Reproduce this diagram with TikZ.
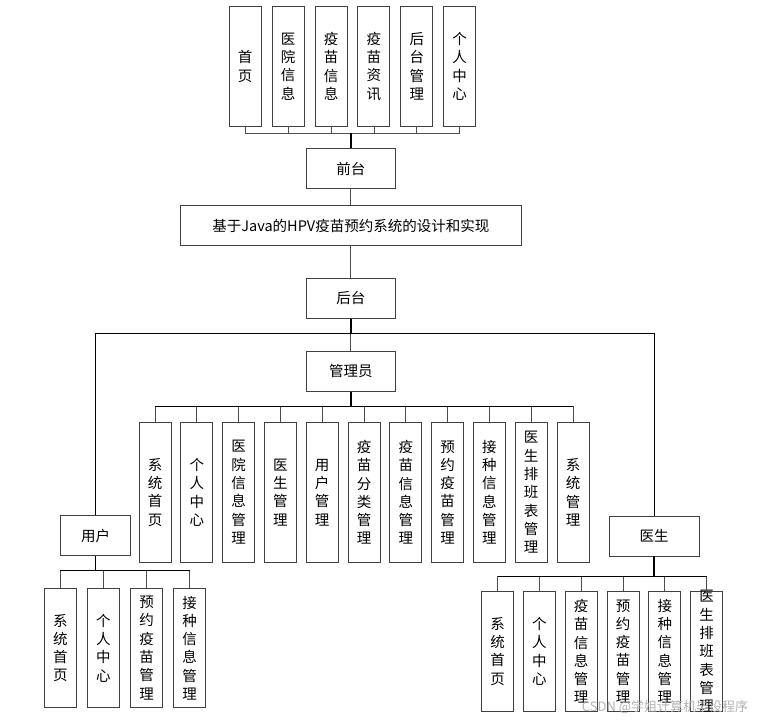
\documentclass[tikz,border=0pt]{standalone}
\usepackage{fontspec}
\setmainfont{Noto Sans CJK SC}
\begin{document}
\begin{tikzpicture}[x=1pt,y=-1pt,
  box/.style={draw=black!75,line width=0.9pt,fill=white,inner sep=0pt,font=\fontsize{14.5pt}{18.3pt}\selectfont},
  vbox/.style={box,minimum width=32pt},
  vtxt/.style={align=center,inner sep=0pt,font=\fontsize{14.5pt}{18.3pt}\selectfont},
  hbox/.style={box,minimum width=89.7pt,minimum height=39.6pt},
  bus/.style={line width=0.8pt,black},
  drop/.style={line width=0.8pt,black!70},
  stem/.style={line width=1.6pt,black}]
\useasboundingbox (0,0) rectangle (765,721);

% top level
\node[hbox] (qt) at (350.85,168.5) {前台};
\node[box,minimum width=341.7pt,minimum height=40pt] (title) at (350.85,225.7) {基于Java的HPV疫苗预约系统的设计和实现};
\node[hbox] (ht) at (350.85,298.3) {后台};
\node[hbox] (gly) at (350.85,371.3) {管理员};
\node[box,minimum width=69.6pt,minimum height=39.6pt] (yh) at (95.5,535.5) {用户};
\node[hbox] (ys) at (654.15,536.15) {医生};

% front boxes
\coordinate (tb) at (350.85,133.3);
\foreach \i/\t in {0/{首\\页},1/{医\\院\\信\\息},2/{疫\\苗\\信\\息},3/{疫\\苗\\资\\讯},4/{后\\台\\管\\理},5/{个\\人\\中\\心}}{
  \node[vbox,minimum height=119.3pt,label={[vtxt]center:\t}] (t\i) at ({245.2+42.9*\i},66.35) {};
  \draw[drop] (t\i.south) |- (tb);
}
\draw[stem] (qt.north) -- (tb);
\draw[drop] (qt.south) -- (title.north);
\draw[drop] (title.south) -- (ht.north);

% back
\coordinate (hb) at (350.85,333.3);
\draw[stem] (ht.south) -- (hb);
\draw[drop] (hb) -- (gly.north);
\draw[bus] (yh.north) |- (hb) -| (ys.north);

% admin children
\coordinate (ab) at (350.85,406.7);
\foreach \i/\t in {0/{系\\统\\首\\页},1/{个\\人\\中\\心},2/{医\\院\\信\\息\\管\\理},3/{医\\生\\管\\理},4/{用\\户\\管\\理},5/{疫\\苗\\分\\类\\管\\理},6/{疫\\苗\\信\\息\\管\\理},7/{预\\约\\疫\\苗\\管\\理},8/{接\\种\\信\\息\\管\\理},9/{医\\生\\排\\班\\表\\管\\理},10/{系\\统\\管\\理}}{
  \node[vbox,minimum height=139.3pt,label={[vtxt]center:\t}] (a\i) at ({155+41.8*\i},492.35) {};
  \draw[drop] (a\i.north) |- (ab);
}
\draw[bus] (a0.north |- ab) -- (a10.north |- ab);
\draw[stem] (gly.south) -- (ab);

% user children
\coordinate (ub) at (95.5,570);
\foreach \i/\t in {0/{系\\统\\首\\页},1/{个\\人\\中\\心},2/{预\\约\\疫\\苗\\管\\理},3/{接\\种\\信\\息\\管\\理}}{
  \node[vbox,minimum height=119.4pt,label={[vtxt]center:\t}] (u\i) at ({60.3+43.1*\i},648) {};
  \draw[drop] (u\i.north) |- (ub);
}
\draw[bus] (u0.north |- ub) -- (u3.north |- ub);
\draw[stem] (yh.south) -- (ub);

% doctor children
\coordinate (db) at (654.15,576.7);
\foreach \i/\t in {0/{系\\统\\首\\页},1/{个\\人\\中\\心},2/{疫\\苗\\信\\息\\管\\理},3/{预\\约\\疫\\苗\\管\\理},4/{接\\种\\信\\息\\管\\理},5/{医\\生\\排\\班\\表\\管\\理}}{
  \node[vbox,minimum height=119.3pt,label={[vtxt]center:\t}] (d\i) at ({497.5+41.84*\i},651.35) {};
  \draw[drop] (d\i.north) |- (db);
}
\draw[bus] (d0.north |- db) -- (d5.north |- db);
\draw[stem] (ys.south) -- (db);

% watermark
\node[text=black!30,font=\fontsize{13pt}{13pt}\selectfont,inner sep=0pt] (wm) at (665,706.7) {CSDN @学姐计算机毕设程序};
\end{tikzpicture}
\end{document}
